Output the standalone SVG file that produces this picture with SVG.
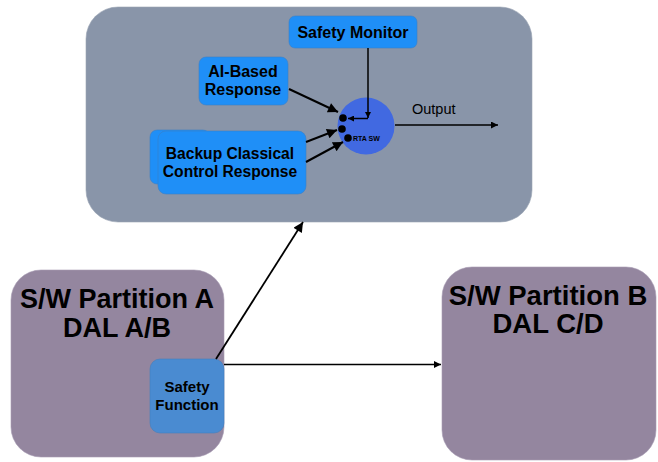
<svg xmlns="http://www.w3.org/2000/svg" width="658" height="462" viewBox="0 0 658 462">
<defs>
<marker id="ah" viewBox="0 0 10 10" refX="10" refY="5" markerWidth="7" markerHeight="7" markerUnits="userSpaceOnUse" orient="auto"><path d="M0,0 L10,5 L0,10 z" fill="#000"/></marker>
<marker id="ahs" viewBox="0 0 10 10" refX="10" refY="5" markerWidth="9" markerHeight="6" markerUnits="userSpaceOnUse" orient="auto"><path d="M0,0 L10,5 L0,10 z" fill="#000"/></marker>
<marker id="ahl" viewBox="0 0 10 10" refX="10" refY="5" markerWidth="14" markerHeight="10" markerUnits="userSpaceOnUse" orient="auto"><path d="M0,0 L10,5 L0,10 z" fill="#000"/></marker>
</defs>
<style>
.t{font-family:"Liberation Sans",Arial,sans-serif;font-weight:bold;fill:#000;text-anchor:middle}
.box{fill:#1f8ff7;stroke:#3a7fc8;stroke-width:0.6}
.part{fill:#94869f;stroke:#a89cb4;stroke-width:0.6}
.ln{stroke:#000;fill:none}
</style>
<g id="top-container"><rect x="86" y="7" width="446" height="215" rx="32" fill="#8995a9" stroke="#9aa4b4" stroke-width="0.6"/></g>
<g id="safety-monitor"><rect class="box" x="289" y="16" width="128" height="32" rx="6"/><text class="t" x="353" y="38" font-size="16">Safety Monitor</text></g>
<g id="ai-based"><rect class="box" x="199" y="57" width="89" height="48" rx="7"/><text class="t" x="243" y="77" font-size="16">AI-Based</text><text class="t" x="243" y="95" font-size="16">Response</text></g>
<g id="backup-back"><rect class="box" x="150" y="130" width="60" height="54" rx="7"/></g>
<g id="backup"><rect class="box" x="158" y="131" width="148" height="63" rx="8"/><text class="t" x="230" y="159" font-size="15.6">Backup Classical</text><text class="t" x="230" y="177" font-size="15.6">Control Response</text></g>
<g id="rta-sw"><circle cx="366" cy="126" r="28.5" fill="#4169e1"/><circle cx="343" cy="118" r="3.8" fill="#000"/><circle cx="342" cy="129" r="3.8" fill="#000"/><circle cx="348" cy="138" r="3.8" fill="#000"/><text class="t" x="353" y="141" font-size="7" style="text-anchor:start">RTA SW</text></g>
<g id="partition-a"><rect class="part" x="11" y="270" width="213" height="187" rx="30"/><text class="t" x="117" y="308" font-size="27">S/W Partition A</text><text class="t" x="117" y="337" font-size="27">DAL A/B</text></g>
<g id="safety-function"><rect x="150" y="359" width="74" height="74" rx="10" fill="#4a8bd1" stroke="#3f7fc0" stroke-width="0.6"/><text class="t" x="187" y="392" font-size="15">Safety</text><text class="t" x="187" y="410" font-size="15">Function</text></g>
<g id="partition-b"><rect class="part" x="442" y="267" width="214" height="193" rx="30"/><text class="t" x="548" y="305" font-size="27.5">S/W Partition B</text><text class="t" x="548" y="333" font-size="27.5">DAL C/D</text></g>
<g id="connectors">
<line class="ln" x1="368" y1="48" x2="368" y2="118" stroke-width="1.5" marker-end="url(#ahs)"/>
<line class="ln" x1="368" y1="118.5" x2="348" y2="118.5" stroke-width="1.5" marker-end="url(#ahs)"/>
<line class="ln" x1="289" y1="89" x2="338" y2="112" stroke-width="2" marker-end="url(#ahl)"/>
<line class="ln" x1="306" y1="142" x2="337" y2="130" stroke-width="2" marker-end="url(#ahl)"/>
<line class="ln" x1="306" y1="162" x2="343" y2="142" stroke-width="2" marker-end="url(#ahl)"/>
<line class="ln" x1="395" y1="125" x2="498" y2="125" stroke-width="1.5" marker-end="url(#ah)"/>
<text x="412" y="114" font-family="Liberation Sans,Arial,sans-serif" font-size="14.5" fill="#000">Output</text>
<line class="ln" x1="216" y1="359" x2="303" y2="222" stroke-width="1.8" marker-end="url(#ahl)"/>
<line class="ln" x1="224" y1="364.5" x2="441" y2="364.5" stroke-width="1.3" marker-end="url(#ah)"/>
</g>
</svg>
